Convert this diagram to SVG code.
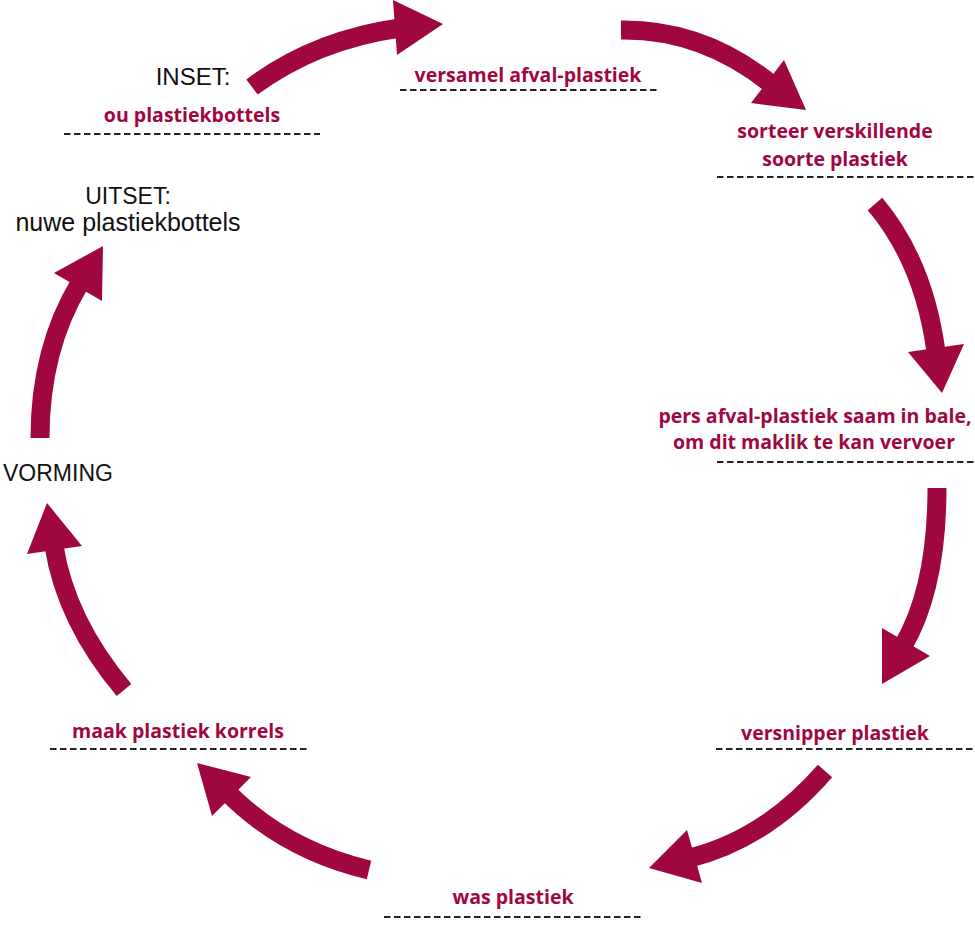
<svg xmlns="http://www.w3.org/2000/svg" width="975" height="933" viewBox="0 0 975 933">
<style>
.shaft{fill:none;stroke:#a0063f;stroke-width:19;stroke-linecap:butt}
.head{fill:#a0063f}
.lbl{font-family:"Open Sans","DejaVu Sans",sans-serif;font-weight:700;font-size:19.5px;fill:#a0063f;text-anchor:middle}
.blk{font-family:"Liberation Sans","Arial",sans-serif;font-size:23px;fill:#111}
.dash{stroke:#222;stroke-width:1.8;stroke-dasharray:6.5 3.5;fill:none}
</style>
<rect width="975" height="933" fill="#fff"/>
<g id="connectors">
<path class="shaft" d="M252,87 Q315,40 400,28"/>
<polygon class="head" points="393,0 397,55 443,24"/>
<path class="shaft" d="M621,30 Q703,29 771,84"/>
<polygon class="head" points="751,103 784,60 806,110"/>
<path class="shaft" d="M875,204 Q924,262 936,352"/>
<polygon class="head" points="908,352 964,344 942,393"/>
<path class="shaft" d="M937,488 Q937,588 903,646"/>
<polygon class="head" points="882,628 930,656 882,684"/>
<path class="shaft" d="M825,771 Q766,839 690,858"/>
<polygon class="head" points="687,830 702,883 649,868"/>
<path class="shaft" d="M369,870 Q285,850 228,793"/>
<polygon class="head" points="251,777 212,816 197,763"/>
<path class="shaft" d="M124,690 Q66,621 54,546"/>
<polygon class="head" points="27,554 82,546 47,503"/>
<path class="shaft" d="M40,438 Q40,349 80,283"/>
<polygon class="head" points="54,273 102,301 103,246"/>
</g>
<g id="inset">
<text class="blk" x="193" y="85" text-anchor="middle" style="font-size:24px">INSET:</text>
</g>
<g id="ou-plastiekbottels">
<text class="lbl" x="192" y="122">ou plastiekbottels</text>
<line class="dash" x1="64" y1="134" x2="320" y2="134"/>
</g>
<g id="uitset">
<text class="blk" x="128" y="204" text-anchor="middle">UITSET:</text>
<text class="blk" x="128" y="231" text-anchor="middle" style="font-size:25px">nuwe plastiekbottels</text>
</g>
<g id="vorming">
<text class="blk" x="3" y="481">VORMING</text>
</g>
<g id="versamel">
<text class="lbl" x="528" y="82">versamel afval-plastiek</text>
<line class="dash" x1="400" y1="90" x2="658" y2="90"/>
</g>
<g id="sorteer">
<text class="lbl" x="835" y="138">sorteer verskillende</text>
<text class="lbl" x="835" y="166">soorte plastiek</text>
<line class="dash" x1="717" y1="177" x2="975" y2="177"/>
</g>
<g id="pers">
<text class="lbl" x="815" y="423">pers afval-plastiek saam in bale,</text>
<text class="lbl" x="814" y="449">om dit maklik te kan vervoer</text>
<line class="dash" x1="717" y1="462" x2="975" y2="462"/>
</g>
<g id="versnipper">
<text class="lbl" x="835" y="740">versnipper plastiek</text>
<line class="dash" x1="716" y1="749" x2="975" y2="749"/>
</g>
<g id="was">
<text class="lbl" x="513" y="904">was plastiek</text>
<line class="dash" x1="384" y1="917" x2="642" y2="917"/>
</g>
<g id="maak">
<text class="lbl" x="178" y="738">maak plastiek korrels</text>
<line class="dash" x1="50" y1="749" x2="307" y2="749"/>
</g>
</svg>
